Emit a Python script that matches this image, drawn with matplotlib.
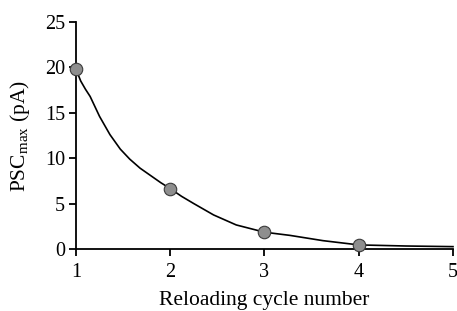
import matplotlib
matplotlib.use("Agg")
import matplotlib.pyplot as plt

# Data points (reloading cycle, PSCmax in pA)
cycles = [1, 2, 3, 4]
psc_max = [19.8, 6.65, 1.85, 0.45]

# Fitted curve
curve_x = [1.0, 1.05, 1.1, 1.15, 1.25, 1.36, 1.47, 1.57, 1.68, 1.79, 1.9, 2.0,
           2.12, 2.25, 2.46, 2.7, 3.0, 3.27, 3.62, 4.0, 4.5, 5.0]
curve_y = [19.8, 18.5, 17.6, 16.8, 14.6, 12.6, 11.0, 9.9, 8.9, 8.1, 7.3, 6.65,
           5.8, 5.0, 3.75, 2.65, 1.85, 1.5, 0.92, 0.45, 0.33, 0.26]

xticks = [1, 2, 3, 4, 5]
yticks = [0, 5, 10, 15, 20, 25]

plt.rcParams['font.family'] = ['Liberation Serif', 'DejaVu Serif']
plt.rcParams['mathtext.fontset'] = 'custom'
plt.rcParams['mathtext.rm'] = 'Liberation Serif'

fig = plt.figure(figsize=(4.57, 3.11), dpi=100)
ax = fig.add_axes([76/457, 1 - 249/311, (453-76)/457, (249-22)/311])

ax.plot(curve_x, curve_y, color='black', lw=1.2, clip_on=False, zorder=2)
ax.plot(cycles, psc_max, 'o', ms=9, mfc='#8e8e8e', mec='#3a3a3a', mew=0.8,
        clip_on=False, zorder=3)

ax.set_xlim(1, 5)
ax.set_ylim(0, 25)
ax.set_xticks(xticks)
ax.set_yticks(yticks)
ax.spines['top'].set_visible(False)
ax.spines['right'].set_visible(False)
for s in ('left', 'bottom'):
    ax.spines[s].set_linewidth(1.3)
ax.tick_params(axis='both', direction='out', length=5, width=1.3,
               labelsize=14.5)
ax.tick_params(axis='x', pad=5)
ax.tick_params(axis='y', pad=3)
ax.set_xlabel('Reloading cycle number', fontsize=15.5, labelpad=6.5)
ax.set_ylabel(r'PSC$_{\mathrm{max}}$ (pA)', fontsize=15.5, labelpad=9)

fig.savefig('out.png', dpi=100)
